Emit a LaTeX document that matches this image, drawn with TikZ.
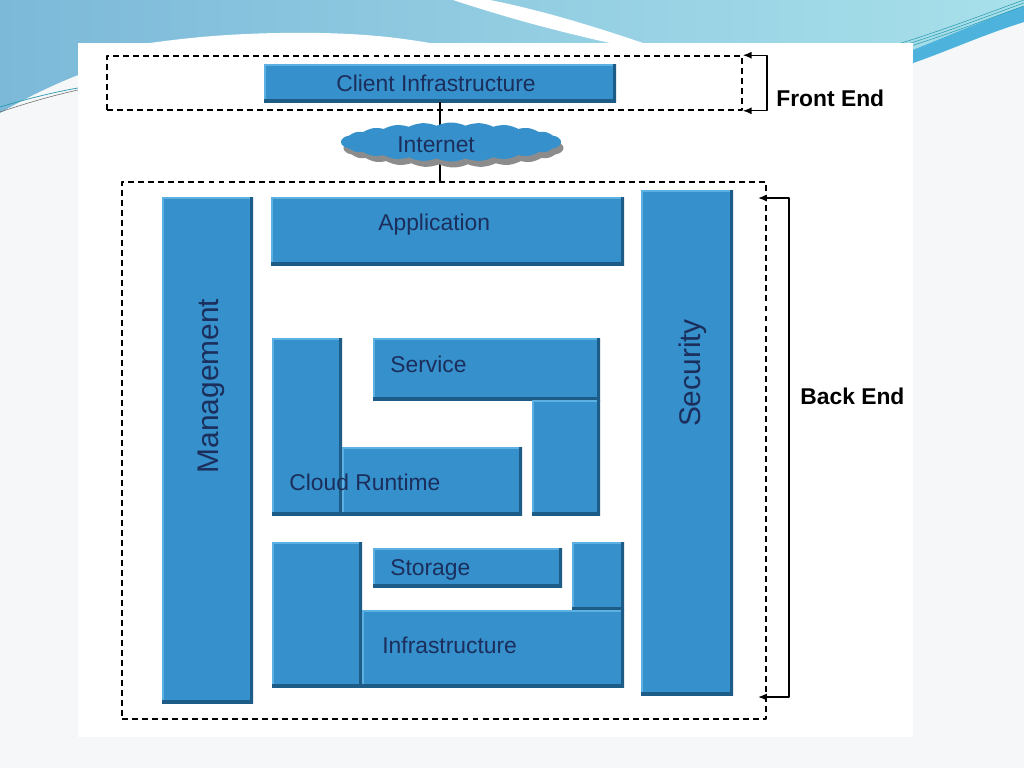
\documentclass[tikz,border=0pt]{standalone}
\usepackage{fontspec}
\setmainfont{Liberation Sans}
\usetikzlibrary{fit,shapes.symbols,shadows,arrows.meta}
\definecolor{bgpage}{HTML}{F5F7F8}
\definecolor{skyleft}{HTML}{7CB9D9}
\definecolor{skyright}{HTML}{A8E0EA}
\definecolor{skyband}{HTML}{4DB3DD}
\definecolor{skyline}{HTML}{2A9AB0}
\definecolor{boxblue}{HTML}{3590CB}
\definecolor{boxlight}{HTML}{5DB0E2}
\definecolor{boxdark}{HTML}{1D5C87}
\definecolor{labelnavy}{HTML}{1B2E5C}
\definecolor{cloudgray}{HTML}{8C8C8C}

\tikzset{
  blk/.style={fill=boxblue,inner sep=0pt,outer sep=0pt,
    path picture={
      \draw[boxlight,line width=2.2pt] (path picture bounding box.south west)
        -- (path picture bounding box.north west) -- (path picture bounding box.north east);
      \draw[boxdark,line width=3pt] (path picture bounding box.north east)
        -- (path picture bounding box.south east) -- (path picture bounding box.south west);
    }},
  frame/.style={draw=black,line width=0.9pt,dash pattern=on 3.4pt off 2.3pt,inner sep=0pt},
  lbl/.style={text=labelnavy,font=\fontsize{13}{15}\selectfont,inner sep=0pt,anchor=base west},
  vlbl/.style={text=labelnavy,font=\fontsize{17}{19}\selectfont,inner sep=0pt,anchor=base,rotate=90},
  side/.style={text=black,font=\fontsize{13}{15}\selectfont\bfseries,inner sep=0pt,anchor=base west},
  brk/.style={draw=black,line width=0.8pt,{Latex[length=5pt,width=4pt]}-{Latex[length=5pt,width=4pt]}},
}

\begin{document}
\begin{tikzpicture}[x=0.02cm,y=-0.02cm,line join=round]
  % canvas 1024 x 768 px
  \useasboundingbox (0,0) rectangle (1024,768);
  \fill[bgpage] (0,0) rectangle (1024,768);

  % ---- slide header waves ----
  \shade[left color=skyleft,right color=skyright]
    (0,0) -- (1024,0) -- (1024,22) .. controls (985,34) and (950,50) .. (913,63)
    -- (913,43) -- (78,43) -- (78,75) .. controls (50,86) and (22,100) .. (0,113) -- cycle;
  \fill[skyband] (913,50) .. controls (950,35) and (990,18) .. (1024,6)
    -- (1024,22) .. controls (985,34) and (950,50) .. (913,63) -- cycle;
  \foreach \d in {0,3,6}{
    \draw[skyline,line width=0.3pt] (898,44+\d) .. controls (950,28+\d) and (990,12+\d) .. (1024,0+\d);
  }
  \draw[skyline,line width=0.4pt] (0,107) .. controls (30,98) and (55,92) .. (78,88);
  \draw[black!60,line width=0.3pt] (0,112) .. controls (30,102) and (55,95) .. (78,90);
  \fill[white] (453,0) .. controls (520,22) and (570,34) .. (610,43)
    -- (643,43) .. controls (590,25) and (540,10) .. (490,0) -- cycle;
  \fill[white] (150,43) .. controls (200,36) and (250,32) .. (320,33)
    .. controls (370,34) and (400,38) .. (430,43) -- cycle;

  % ---- picture panel ----
  \fill[white] (78,43) rectangle (913,737);

  % ---- front end / back end frames ----
  \node[frame,fit={(107,56) (742,110)}] (front) {};
  \node[frame,fit={(122,182) (766,719)}] (back) {};

  % ---- client and internet ----
  \node[blk,fit={(264,64) (616,102)}] (client) {};
  \draw[line width=0.8pt] (client.south) -- (client.south |- back.north);
  \node[cloud,cloud puffs=24,cloud puff arc=50,aspect=5.5,fill=boxblue,
        minimum width=4.4cm,minimum height=0.78cm,inner sep=0pt,
        drop shadow={shadow xshift=0.05cm,shadow yshift=-0.12cm,fill=cloudgray,opacity=1}]
    (internet) at (451,142) {};

  % ---- back end blocks ----
  \foreach \n/\a/\b/\c/\d in {mgmt/162/197/253/703, app/271/197/624/265,
      sec/641/190/733/695, srvl/272/338/342/515, srv/373/338/600/400,
      srvr/532/400/600/515, run/342/447/522/515, stol/272/542/362/687,
      sto/373/548/562/587, stor/572/542/624/610, infra/362/610/624/687}{
    \node[blk,fit={(\a,\b) (\c,\d)}] (\n) {};
  }

  % ---- labels ----
  \node[lbl] (clienttxt) at (336,91) {Client Infrastructure};
  \node[lbl] (nettxt) at (397,152) {Internet};
  \node[lbl] (apptxt) at (378,230) {Application};
  \node[lbl] (srvtxt) at (390,372) {Service};
  \node[lbl] (runtxt) at (289,490) {Cloud Runtime};
  \node[lbl] (stotxt) at (390,575) {Storage};
  \node[lbl] (infratxt) at (382,653) {Infrastructure};
  \node[vlbl] (mgmttxt) at (218,386) {Management};
  \node[vlbl] (sectxt) at (700,373) {Security};

  % ---- brackets ----
  \draw[brk] (front.north east) -- ++(24,0) |- (front.south east);
  \coordinate (betop) at (758,198);
  \coordinate (bebot) at (758,697);
  \draw[brk] (betop) -- ++(31,0) |- (bebot);
  \node[side] (fronttxt) at (776,106) {Front End};
  \node[side] (backtxt) at (800,404) {Back End};
\end{tikzpicture}
\end{document}
